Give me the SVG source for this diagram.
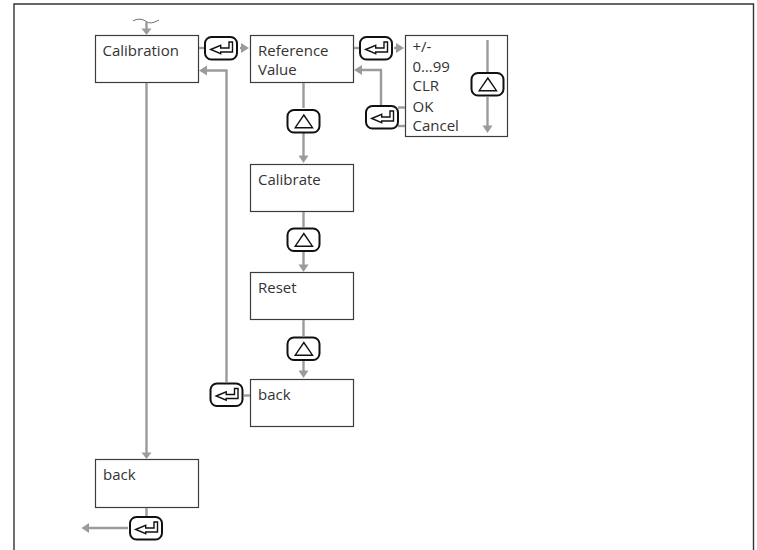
<svg xmlns="http://www.w3.org/2000/svg" width="757" height="550" viewBox="0 0 757 550">
<defs>
<style>
.box{fill:#fff;stroke:#3c3c3c;stroke-width:1.200}
.c{fill:none;stroke:#9b9b9b;stroke-width:2.400}
.k{fill:#fff;stroke:#111;stroke-width:2}
.g{fill:none;stroke:#111;stroke-width:1.400}
.t{font-family:"Open Sans","Noto Sans",sans-serif;font-size:15px;fill:#333}
.h{fill:#9b9b9b}
</style>
<g id="enter"><rect class="k" x="0" y="0" width="32" height="22.500" rx="6.500"/><path class="g" d="M5.700 12.500 L15.700 8.300 V11 H24 V5 H27.500 V15 H15.700 V16.700 Z"/></g>
<g id="up"><rect class="k" x="0" y="0" width="32" height="22.500" rx="6.500"/><path class="g" d="M16.300 5 L25 17.700 H7.700 Z"/></g>
</defs>
<rect width="757" height="550" fill="#fff"/>
<path d="M14 550 V4 H753.500 V550" fill="none" stroke="#333" stroke-width="1.400"/>
<g id="calibration"><rect class="box" x="95.500" y="35.500" width="103" height="47"/><text class="t" x="102.500" y="56">Calibration</text></g>
<g id="reference"><rect class="box" x="250.500" y="35.500" width="103" height="47"/><text class="t" x="258" y="56">Reference</text><text class="t" x="258" y="75">Value</text></g>
<g id="list"><rect class="box" x="405.500" y="35.500" width="102" height="101"/>
<text class="t" x="412.500" y="52">+/-</text><text class="t" x="412.500" y="72">0…99</text><text class="t" x="412.500" y="91">CLR</text><text class="t" x="412.500" y="111.500">OK</text><text class="t" x="412.500" y="131">Cancel</text></g>
<g id="calibrate"><rect class="box" x="250.500" y="164.500" width="103" height="47"/><text class="t" x="258" y="185">Calibrate</text></g>
<g id="reset"><rect class="box" x="250.500" y="272.500" width="103" height="47"/><text class="t" x="258" y="293">Reset</text></g>
<g id="back1"><rect class="box" x="250.500" y="379.500" width="103" height="47"/><text class="t" x="258" y="400">back</text></g>
<g id="back2"><rect class="box" x="95.500" y="459.500" width="103" height="48"/><text class="t" x="103" y="480">back</text></g>
<g id="connectors">
<path fill="none" stroke="#444" stroke-width="0.800" d="M133 21 C138 18 143 19 147 22 C151 24 155 22 159 20"/>
<path class="c" d="M146.500 22 V30"/><path class="h" d="M141.500 28.500 H151.500 L146.500 35 Z"/>
<path class="c" d="M146.500 83 V454"/><path class="h" d="M141.500 452.500 H151.500 L146.500 459 Z"/>
<path class="c" d="M146.500 508 V522"/>
<path class="c" d="M128 528 H88"/><path class="h" d="M89 523 V533 L81.500 528 Z"/>
<path class="c" d="M199 48 H204"/>
<path class="c" d="M240 48 H243"/><path class="h" d="M241 43 L249 48 L241 53 Z"/>
<path class="c" d="M226.500 382 V70.500 H205"/><path class="h" d="M207 65.500 V75.500 L199 70.500 Z"/>
<path class="c" d="M354 48 H359"/>
<path class="c" d="M394 48 H397"/><path class="h" d="M396 43 L404 48 L396 53 Z"/>
<path class="c" d="M381 106 V70 H360"/><path class="h" d="M362 65 V75 L354 70 Z"/>
<path class="c" d="M398 107.500 H405"/><path class="c" d="M398 126 H405"/>
<path class="c" d="M487.500 40 V72"/><path class="c" d="M487.500 97 V127"/><path class="h" d="M482.500 125.500 H492.500 L487.500 133 Z"/>
<path class="c" d="M303.500 83 V108"/><path class="c" d="M303.500 133 V157"/><path class="h" d="M298.500 155.500 H308.500 L303.500 163 Z"/>
<path class="c" d="M303.500 212 V227"/><path class="c" d="M303.500 252 V266"/><path class="h" d="M298.500 264.500 H308.500 L303.500 272 Z"/>
<path class="c" d="M303.500 320 V336"/><path class="c" d="M303.500 361 V372"/><path class="h" d="M298.500 370.500 H308.500 L303.500 378 Z"/>
<path class="c" d="M244 395.500 H250"/>
</g>
<g id="keys">
<use id="key-enter-1" href="#enter" x="205" y="37"/>
<use id="key-enter-2" href="#enter" x="360" y="37"/>
<use id="key-enter-3" href="#enter" x="366" y="106"/>
<use id="key-enter-4" href="#enter" x="210.500" y="383.500"/>
<use id="key-enter-5" href="#enter" x="130" y="517"/>
<use id="key-up-1" href="#up" x="471.500" y="73"/>
<use id="key-up-2" href="#up" x="287.500" y="110"/>
<use id="key-up-3" href="#up" x="287.500" y="228.500"/>
<use id="key-up-4" href="#up" x="287.500" y="337.500"/>
</g>
</svg>
